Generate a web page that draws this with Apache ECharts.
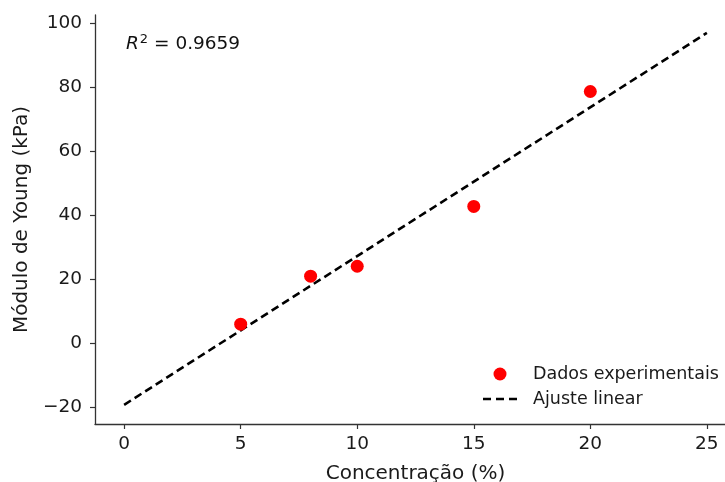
<!DOCTYPE html>
<html><head><meta charset="utf-8">
<script src="https://cdn.jsdelivr.net/npm/echarts@6/dist/echarts.min.js"></script>
<style>html,body{margin:0;padding:0;background:#fff}#c{width:725px;height:482px}</style>
</head><body><div id="c"></div>
<script>
const concentration = [5, 8, 10, 15, 20];
const youngModulus = [5.9, 20.9, 24.0, 42.7, 78.6];
const fitX = [0, 25];
const fitY = [-19.3, 96.9];
const xTicks = [0, 5, 10, 15, 20, 25];
const yTicks = [-20, 0, 20, 40, 60, 80, 100];
const r2Text = "0.9659";

const chart = echarts.init(document.getElementById('c'), null, {renderer: 'canvas'});
const font = 'DejaVu Sans';
const axisColor = '#333';
const textColor = '#1a1a1a';
chart.setOption({
  animation: false,
  backgroundColor: '#fff',
  textStyle: {fontFamily: font},
  grid: {left: 95, top: 15, right: -11, bottom: 58, containLabel: false, outerBoundsMode: 'none'},
  xAxis: {
    type: 'value', min: -1.25, max: 26.25,
    name: 'Concentração (%)', nameLocation: 'middle', nameGap: 40,
    nameTextStyle: {fontSize: 20, color: textColor, fontFamily: font},
    axisLine: {show: true, onZero: false, lineStyle: {color: axisColor, width: 1.3}},
    axisTick: {show: true, length: 5, customValues: xTicks, lineStyle: {color: axisColor, width: 1.2}},
    axisLabel: {customValues: xTicks, fontSize: 18.5, color: textColor, margin: 11, fontFamily: font},
    splitLine: {show: false}
  },
  yAxis: {
    type: 'value', min: -25.3, max: 102.5,
    name: 'Módulo de Young (kPa)', nameLocation: 'middle', nameGap: 62, nameRotate: 90,
    nameTextStyle: {fontSize: 20, color: textColor, fontFamily: font},
    axisLine: {show: true, onZero: false, lineStyle: {color: axisColor, width: 1.3}},
    axisTick: {show: true, length: 5, customValues: yTicks, lineStyle: {color: axisColor, width: 1.2}},
    axisLabel: {customValues: yTicks, fontSize: 18.5, color: textColor, margin: 13, fontFamily: font,
      formatter: v => v < 0 ? '\u2212' + Math.abs(v) : String(v)},
    splitLine: {show: false}
  },
  legend: {
    orient: 'vertical', left: 478, top: 360, itemWidth: 34, itemHeight: 13, itemGap: 7,
    textStyle: {fontSize: 17.5, color: textColor, fontFamily: font, padding: [0,0,0,11]},
    data: [
      {name: 'Dados experimentais', icon: 'circle'},
      {name: 'Ajuste linear', icon: 'path://M0,0H8V2.6H0Z M13,0H21V2.6H13Z M26,0H34V2.6H26Z', itemStyle: {color: '#000'}}
    ]
  },
  graphic: [{
    type: 'text', left: 126, top: 33,
    style: {
      text: '{i|R}{s|2}{n| = ' + r2Text + '}',
      rich: {
        i: {fontStyle: 'italic', fontSize: 18.5, fontFamily: font, fill: '#111'},
        s: {fontSize: 13, fontFamily: font, fill: '#111', verticalAlign: 'top', padding: [0,0,9,1]},
        n: {fontSize: 18.5, fontFamily: font, fill: '#111'}
      }
    }
  }],
  series: [
    {
      name: 'Ajuste linear', type: 'line', symbol: 'none', z: 2,
      data: fitX.map((x, i) => [x, fitY[i]]),
      lineStyle: {color: '#000', width: 2.6, type: [8, 4.5]},
      itemStyle: {color: '#000'}
    },
    {
      name: 'Dados experimentais', type: 'scatter', symbol: 'circle', symbolSize: 13, z: 3,
      data: concentration.map((x, i) => [x, youngModulus[i]]),
      itemStyle: {color: '#ff0000', opacity: 1}
    }
  ]
});
</script></body></html>
